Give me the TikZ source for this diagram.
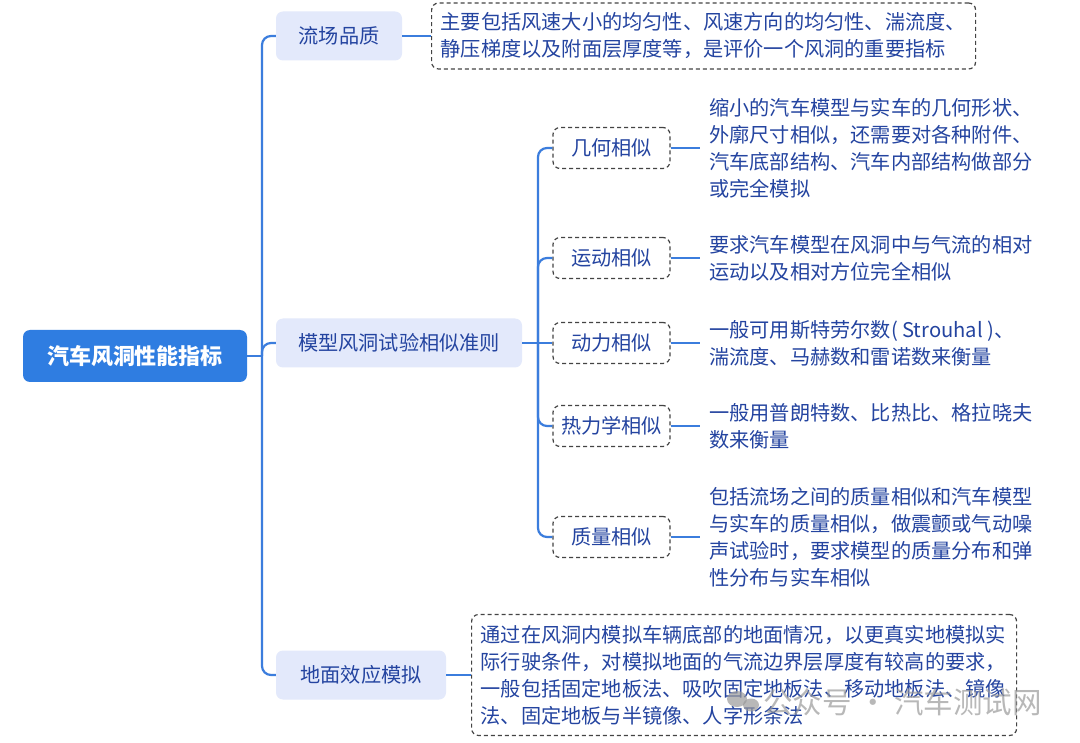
\documentclass[tikz,border=0pt]{standalone}
\usepackage{fontspec}
\setmainfont{Noto Sans CJK SC}
\definecolor{lineblue}{HTML}{3B7DDD}
\definecolor{rootblue}{HTML}{2F7DE1}
\definecolor{lav}{HTML}{E3E9FB}
\definecolor{txt}{HTML}{2444A0}
\definecolor{dashgray}{HTML}{444444}
\definecolor{wmgray}{HTML}{9A9A9A}
\begin{document}
\begin{tikzpicture}[x=1pt,y=-1pt,
  font=\fontsize{20.2}{27}\selectfont,
  rootbox/.style={fill=rootblue, rounded corners=7pt, text=white,
    font=\fontsize{22}{26}\selectfont\bfseries, minimum width=224pt,
    minimum height=52pt, inner sep=0pt},
  lvone/.style={fill=lav, rounded corners=7pt, text=txt, minimum height=49pt, inner sep=0pt},
  lvtwo/.style={draw=dashgray, line width=1.2pt, dash pattern=on 4pt off 3pt,
    rounded corners=7pt, fill=white, text=txt, minimum width=117pt,
    minimum height=41pt, inner sep=0pt},
  desc/.style={text=txt, align=left, anchor=west, inner xsep=9pt, inner ysep=0pt},
  dbox/.style={draw=dashgray, line width=1.2pt, dash pattern=on 4pt off 3pt,
    rounded corners=7pt, text=txt, align=left, inner xsep=9pt, anchor=west},
  conn/.style={draw=lineblue, line width=2.2pt, rounded corners=9pt}
]
\useasboundingbox (0,0) rectangle (1080,743);
\fill[white] (0,0) rectangle (1080,743);

% root and level one
\node[rootbox] (root) at (135,356) {汽车风洞性能指标};
\node[lvone, minimum width=126pt] (a) at (339,36) {流场品质};
\node[lvone, minimum width=246pt] (b) at (399,343) {模型风洞试验相似准则};
\node[lvone, minimum width=170pt] (c) at (361,675) {地面效应模拟};

% descriptions of level one
\node[dbox, text width=526pt, minimum height=66pt] (ad) at (431,36)
  {主要包括风速大小的均匀性、风速方向的均匀性、湍流度、\\静压梯度以及附面层厚度等，是评价一个风洞的重要指标};
\node[dbox, text width=527pt, minimum height=121pt] (cd) at (471,675)
  {通过在风洞内模拟车辆底部的地面情况，以更真实地模拟实\\际行驶条件，对模拟地面的气流边界层厚度有较高的要求，\\一般包括固定地板法、吸吹固定地板法、移动地板法、镜像\\法、固定地板与半镜像、人字形条法};

% level two
\node[lvtwo] (g1) at (611.5,148) {几何相似};
\node[lvtwo] (g2) at (611.5,258) {运动相似};
\node[lvtwo] (g3) at (611.5,343) {动力相似};
\node[lvtwo] (g4) at (611.5,426) {热力学相似};
\node[lvtwo] (g5) at (611.5,537) {质量相似};

\node[desc] (d1) at (700,148) {缩小的汽车模型与实车的几何形状、\\外廓尺寸相似，还需要对各种附件、\\汽车底部结构、汽车内部结构做部分\\或完全模拟};
\node[desc] (d2) at (700,258) {要求汽车模型在风洞中与气流的相对\\运动以及相对方位完全相似};
\node[desc] (d3) at (700,343) {一般可用斯特劳尔数( Strouhal )、\\湍流度、马赫数和雷诺数来衡量};
\node[desc] (d4) at (700,426) {一般用普朗特数、比热比、格拉晓夫\\数来衡量};
\node[desc] (d5) at (700,537) {包括流场之间的质量相似和汽车模型\\与实车的质量相似，做震颤或气动噪\\声试验时，要求模型的质量分布和弹\\性分布与实车相似};

% junctions
\coordinate (j1) at (262,356);
\coordinate (j2) at (538,343);

% connectors
\draw[conn] (root.east) -- (j1);
\draw[conn] (j1) |- (a.west);
\draw[conn] (j1) |- (b.west);
\draw[conn] (j1) |- (c.west);
\draw[conn] (a.east) -- (ad.west);
\draw[conn] (c.east) -- (cd.west);
\draw[conn] (b.east) -- (j2);
\draw[conn] (j2) |- (g1.west);
\draw[conn] (j2) |- (g2.west);
\draw[conn] (j2) -- (g3.west);
\draw[conn] (j2) |- (g4.west);
\draw[conn] (j2) |- (g5.west);
\draw[conn] (g1.east) -- (d1.west);
\draw[conn] (g2.east) -- (d2.west);
\draw[conn] (g3.east) -- (d3.west);
\draw[conn] (g4.east) -- (d4.west);
\draw[conn] (g5.east) -- (d5.west);

% watermark
\begin{scope}[opacity=0.7]
\fill[wmgray] (737,699) ellipse (10pt and 8pt);
\fill[wmgray] (751,705) ellipse (8pt and 6.5pt);
\node[text=wmgray, font=\fontsize{29.5}{30}\selectfont, anchor=west, inner sep=0pt] (wm) at (763,702) {公众号 · 汽车测试网};
\end{scope}
\end{tikzpicture}
\end{document}
